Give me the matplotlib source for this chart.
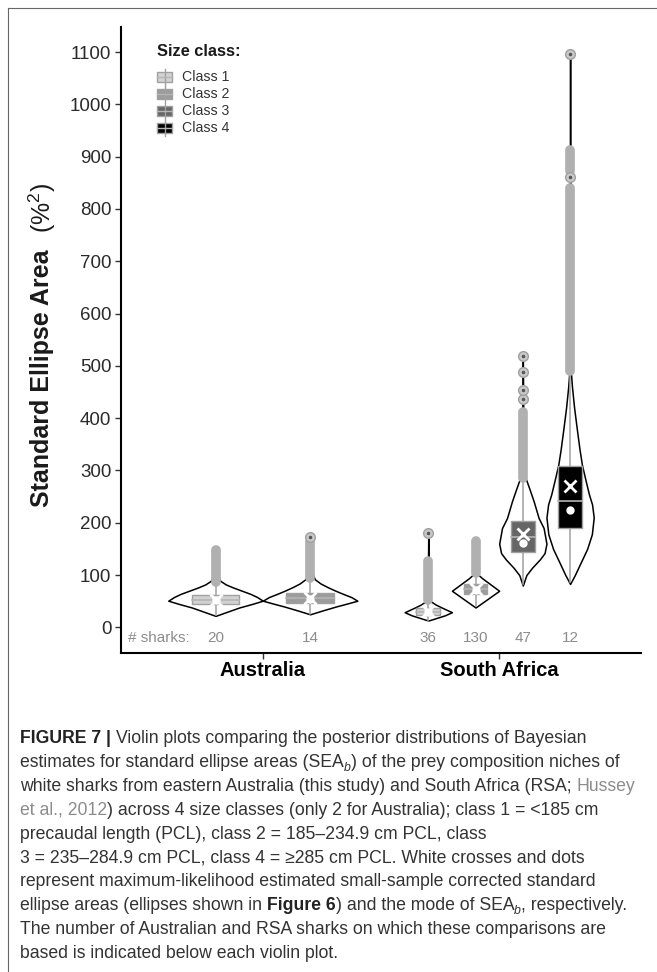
import numpy as np
import matplotlib
matplotlib.use("Agg")
import matplotlib.pyplot as plt
from matplotlib.patches import Rectangle
from matplotlib.lines import Line2D

plt.rcParams['font.family'] = ['Liberation Sans', 'DejaVu Sans']
plt.rcParams['mathtext.fontset'] = 'custom'
plt.rcParams['mathtext.rm'] = 'Liberation Sans'
plt.rcParams['mathtext.it'] = 'Liberation Sans:italic'

W, H = 657, 972

# ---- data ----
regions = ['Australia', 'South Africa']
classes = ['Class 1', 'Class 2', 'Class 3', 'Class 4']
class_fill = ['#d2d2d2', '#9c9c9c', '#666666', '#000000']

# one entry per violin
v_region = [0, 0, 1, 1, 1, 1]
v_class = [0, 1, 0, 1, 2, 3]
n_sharks = [20, 14, 36, 130, 47, 12]

box_q1 = [45, 46, 23, 64, 144, 190]
box_med = [53, 56, 30, 73, 172, 241]
box_q3 = [61, 66, 38, 83, 203, 309]
whisk_lo = [24, 25, 13, 40, 83, 86]
whisk_hi = [86, 94, 52, 104, 285, 490]
ml_cross = [53, 56, 31, 74, 178, 270]
mode_dot = [53, 55, 30, 72, 161, 224]

# dense runs of outliers (drawn as a column) and isolated outliers
out_runs = [[(86, 148)], [(94, 163)], [(52, 127)], [(104, 165)],
            [(285, 412)], [(490, 840), (873, 912)]]
out_single = [[], [172], [180], [], [436, 453, 488, 518], [862, 1097]]

# violin outlines: levels and relative half-width
aus1_y = [22, 30, 38, 45, 51, 58, 64, 70, 76, 82, 89, 100, 120, 150]
aus1_w = [0, 0.25, 0.5, 0.78, 1.0, 0.88, 0.74, 0.56, 0.38, 0.22, 0.1, 0.04, 0.015, 0]
aus2_y = [25, 32, 40, 46, 51, 58, 64, 70, 77, 84, 92, 105, 130, 172]
aus2_w = [0, 0.25, 0.55, 0.8, 1.0, 0.87, 0.7, 0.54, 0.37, 0.22, 0.1, 0.04, 0.015, 0]
sa1_y = [13, 18, 23, 29, 34, 39, 44, 50, 60, 90, 130, 180]
sa1_w = [0, 0.35, 0.7, 1.0, 0.76, 0.52, 0.3, 0.1, 0.04, 0.02, 0.01, 0]
sa2_y = [38, 46, 54, 62, 70, 78, 86, 94, 102, 115, 140, 165]
sa2_w = [0, 0.25, 0.5, 0.75, 1.0, 0.76, 0.52, 0.28, 0.08, 0.03, 0.01, 0]
sa3_y = [80, 100, 114, 130, 142, 160, 190, 209, 241, 266, 285, 320, 400, 518]
sa3_w = [0, 0.15, 0.39, 0.72, 0.92, 1.0, 0.88, 0.67, 0.46, 0.27, 0.12, 0.04, 0.02, 0]
sa4_y = [83, 100, 127, 150, 178, 210, 235, 254, 280, 311, 340, 374, 420, 460, 490, 600, 900, 1097]
sa4_w = [0, 0.2, 0.48, 0.72, 0.92, 1.0, 0.93, 0.8, 0.66, 0.5, 0.4, 0.3, 0.17, 0.08, 0.03, 0.015, 0.008, 0]
violin_y = [aus1_y, aus2_y, sa1_y, sa2_y, sa3_y, sa4_y]
violin_w = [aus1_w, aus2_w, sa1_w, sa2_w, sa3_w, sa4_w]

yticks = list(range(0, 1101, 100))


def px(x, y):
    return x / W, 1 - y / H


fig = plt.figure(figsize=(W / 100, H / 100), dpi=100)
ax = fig.add_axes([121 / W, 1 - 653 / H, (641 - 121) / W, (653 - 27) / H])

dodge = 0.8
for i in range(len(v_region)):
    r = v_region[i]
    grp = [k for k in range(len(v_region)) if v_region[k] == r]
    n = len(grp)
    k = grp.index(i)
    slot = dodge / n
    x = r + 1 + (k - (n - 1) / 2) * slot
    half = slot / 2
    yy = np.array(violin_y[i])
    ww = np.array(violin_w[i]) * half
    ax.fill_betweenx(yy, x - ww, x + ww, facecolor='white', edgecolor='black',
                     lw=1.1, zorder=2)
    # whiskers
    ax.plot([x, x], [whisk_lo[i], box_q1[i]], color='#a0a0a0', lw=1.1, zorder=3)
    ax.plot([x, x], [box_q3[i], whisk_hi[i]], color='#a0a0a0', lw=1.1, zorder=3)
    bw = slot * 0.5
    ax.add_patch(Rectangle((x - bw / 2, box_q1[i]), bw, box_q3[i] - box_q1[i],
                           facecolor=class_fill[v_class[i]], edgecolor='#a0a0a0',
                           lw=1.0, zorder=4))
    ax.plot([x - bw / 2, x + bw / 2], [box_med[i]] * 2, color='#b5b5b5', lw=1.2, zorder=4)
    # outliers
    for lo, hi in out_runs[i]:
        ax.plot([x, x], [lo, hi], color='#b0b0b0', lw=7, solid_capstyle='round', zorder=5)
    for v in out_single[i]:
        ax.plot(x, v, marker='o', ms=7, mfc='#c8c8c8', mec='#a0a0a0', mew=1, zorder=5)
        ax.plot(x, v, marker='o', ms=1.5, color='#555555', zorder=5)
    ax.plot(x, ml_cross[i], marker='x', ms=8, mew=2, color='white', zorder=6)
    ax.plot(x, mode_dot[i], marker='o', ms=5, mfc='white', mec='white', zorder=6)
    ax.text(x, -20, str(n_sharks[i]), ha='center', va='center', fontsize=11, color='#8c8c8c')

ax.text(0.43, -20, '# sharks:', ha='left', va='center', fontsize=11, color='#8c8c8c')

ax.set_xlim(0.4, 2.6)
ax.set_ylim(-49, 1148)
ax.set_yticks(yticks)
ax.set_yticklabels([str(t) for t in yticks])
ax.set_xticks([1, 2])
ax.set_xticklabels(regions, fontweight='bold', fontsize=14.5)
ax.tick_params(axis='y', labelsize=13.5, labelcolor='#2a2a2a', length=4, width=1,
               color='#333333', pad=3)
ax.tick_params(axis='x', length=4, width=1, color='#333333', pad=2)
for s in ['top', 'right']:
    ax.spines[s].set_visible(False)
for s in ['left', 'bottom']:
    ax.spines[s].set_linewidth(1.5)

# y label
fig.text(*px(42, 378), 'Standard Ellipse Area', rotation=90, ha='center', va='center',
         fontsize=18, fontweight='bold', color='#1a1a1a')
fig.text(*px(42, 208), '(%$^2$)', rotation=90, ha='center', va='center',
         fontsize=18, color='#1a1a1a')

# legend
fig.text(*px(157, 52), 'Size class:', ha='left', va='center', fontsize=11.8,
         fontweight='bold', color='#1a1a1a')
key_y = [77, 94, 111, 128]
for c in range(len(classes)):
    yc = key_y[c]
    x0, y0 = px(157, yc + 5)
    fig.add_artist(Line2D([px(164.5, 0)[0]] * 2, [px(0, yc - 8)[1], px(0, yc + 8)[1]],
                          color='#a0a0a0', lw=1))
    fig.add_artist(Rectangle((x0, y0), 15 / W, 10 / H, facecolor=class_fill[c],
                             edgecolor='#a0a0a0', lw=1, transform=fig.transFigure))
    fig.add_artist(Line2D([px(157, 0)[0], px(172, 0)[0]], [px(0, yc)[1]] * 2,
                          color='#b5b5b5', lw=1))
    fig.text(*px(182, yc), classes[c], ha='left', va='center', fontsize=10.2, color='#333333')

# frame
fig.add_artist(Line2D([px(8, 0)[0], 1], [px(0, 8)[1]] * 2, color='#666666', lw=0.8))
fig.add_artist(Line2D([px(8, 0)[0]] * 2, [px(0, 8)[1], 0], color='#666666', lw=0.8))

# caption
cap_lines = [
    [('FIGURE 7 | ', 'bold'), ('Violin plots comparing the posterior distributions of Bayesian', 'n')],
    [('estimates for standard ellipse areas (SEA', 'n'), ('b', 'sub'),
     (') of the prey composition niches of', 'n')],
    [('white sharks from eastern Australia (this study) and South Africa (RSA; ', 'n'),
     ('Hussey', 'link')],
    [('et al., 2012', 'link'), (') across 4 size classes (only 2 for Australia); class 1 = <185 cm', 'n')],
    [('precaudal length (PCL), class 2 = 185\u2013234.9 cm PCL, class', 'n')],
    [('3 = 235\u2013284.9 cm PCL, class 4 = \u2265285 cm PCL. White crosses and dots', 'n')],
    [('represent maximum-likelihood estimated small-sample corrected standard', 'n')],
    [('ellipse areas (ellipses shown in ', 'n'), ('Figure 6', 'bold'),
     (') and the mode of SEA', 'n'), ('b', 'sub'), (', respectively.', 'n')],
    [('The number of Australian and RSA sharks on which these comparisons are', 'n')],
    [('based is indicated below each violin plot.', 'n')],
]

renderer = fig.canvas.get_renderer()
cap_size = 12.7


def style_kw(style):
    kw = dict(fontsize=cap_size, color='#333333')
    if style == 'bold':
        kw.update(fontweight='bold', color='#222222')
    elif style == 'link':
        kw['color'] = '#8c8c8c'
    elif style == 'sub':
        kw.update(fontsize=cap_size * 0.7, fontstyle='italic')
    return kw


def text_width(s, kw):
    t1 = fig.text(0, 0, '|' + s + '|', **kw)
    t2 = fig.text(0, 0, '||', **kw)
    w = t1.get_window_extent(renderer).width - t2.get_window_extent(renderer).width
    t1.remove()
    t2.remove()
    return w


for li, parts in enumerate(cap_lines):
    ybase = 743 + li * 23.9
    x = 20
    for s, style in parts:
        kw = style_kw(style)
        dy = 4 if style == 'sub' else 0
        fig.text(*px(x, ybase + dy), s, ha='left', va='baseline', **kw)
        x += text_width(s, kw)

fig.savefig('out.png', dpi=100)
